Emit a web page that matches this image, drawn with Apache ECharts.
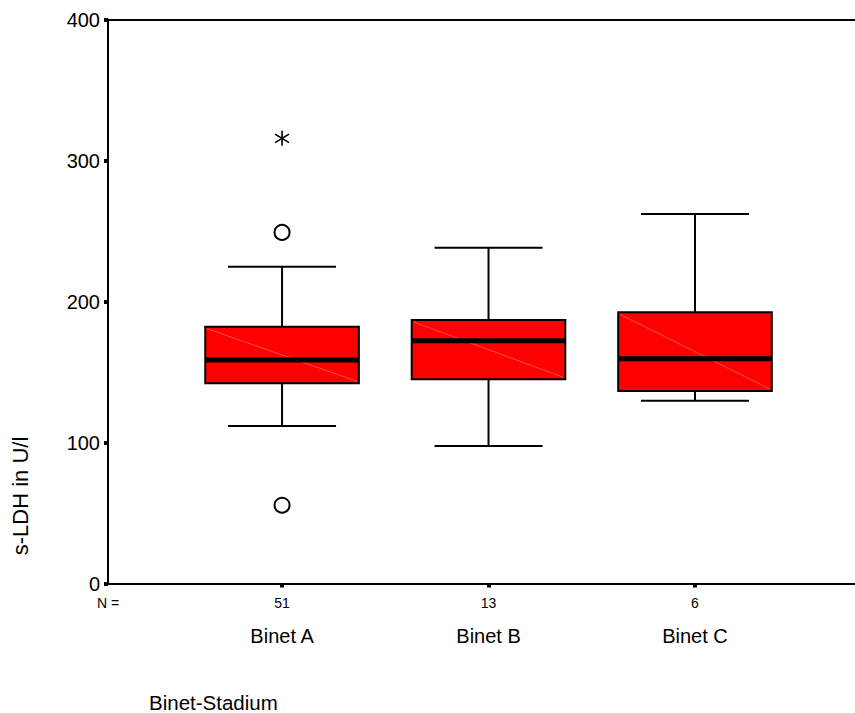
<!DOCTYPE html>
<html>
<head>
<meta charset="utf-8">
<script src="https://cdn.jsdelivr.net/npm/echarts@6/dist/echarts.min.js"></script>
<style>
  html, body { margin: 0; padding: 0; background: #fff; }
  #chart { width: 855px; height: 713px; }
</style>
</head>
<body>
<div id="chart"></div>
<script>
// s-LDH (U/l) by Binet stage — box-and-whisker summary
const categories = ['Binet A', 'Binet B', 'Binet C'];
const groupSizes = [51, 13, 6];
const whiskerLow = [111.7, 97.5, 129.6];
const quartile1 = [142.0, 144.8, 136.5];
const medians = [158.5, 172.2, 159.4];
const quartile3 = [182.1, 186.9, 192.3];
const whiskerHigh = [224.7, 238.2, 262.0];
// outliers (circles) and extremes (asterisks): [category index, value]
const outliers = [[0, 249.0], [0, 55.5]];
const extremes = [[0, 315.7]];
const yTicks = { min: 0, max: 400, step: 100 };

const FONT = '"Liberation Sans", Arial, sans-serif';
const X_MIN = 0.157;
const X_MAX = 3.775;
const catPositions = categories.map((c, i) => i + 1);

const boxData = categories.map((c, i) => [
  i + 1, whiskerLow[i], quartile1[i], medians[i], quartile3[i], whiskerHigh[i]
]);
const pointData = outliers.map(o => [o[0] + 1, o[1], 0])
  .concat(extremes.map(o => [o[0] + 1, o[1], 1]));

function renderBox(params, api) {
  const x = api.value(0);
  const lo = api.coord([x, api.value(1)]);
  const q1 = api.coord([x, api.value(2)]);
  const md = api.coord([x, api.value(3)]);
  const q3 = api.coord([x, api.value(4)]);
  const hi = api.coord([x, api.value(5)]);
  const unit = api.size([1, 0])[0];
  const bw = unit * 0.744;
  const cw = unit * 0.523;
  const cx = lo[0];
  const ln = { stroke: '#000', lineWidth: 2 };
  return {
    type: 'group',
    children: [
      { type: 'line', shape: { x1: cx, y1: hi[1], x2: cx, y2: q3[1] }, style: ln },
      { type: 'line', shape: { x1: cx, y1: q1[1], x2: cx, y2: lo[1] }, style: ln },
      { type: 'line', shape: { x1: cx - cw / 2, y1: hi[1], x2: cx + cw / 2, y2: hi[1] }, style: ln },
      { type: 'line', shape: { x1: cx - cw / 2, y1: lo[1], x2: cx + cw / 2, y2: lo[1] }, style: ln },
      { type: 'rect', shape: { x: cx - bw / 2, y: q3[1], width: bw, height: q1[1] - q3[1] },
        style: { fill: '#ff0000', stroke: '#000', lineWidth: 2 } },
      { type: 'line', shape: { x1: cx - bw / 2 + 2, y1: q3[1] + 2, x2: cx + bw / 2 - 2, y2: q1[1] - 2 },
        style: { stroke: 'rgba(255,150,150,0.75)', lineWidth: 0.7 } },
      { type: 'line', shape: { x1: cx - bw / 2, y1: md[1], x2: cx + bw / 2, y2: md[1] },
        style: { stroke: '#000', lineWidth: 5 } }
    ]
  };
}

function renderPoint(params, api) {
  const p = api.coord([api.value(0), api.value(1)]);
  const kind = api.value(2);
  if (kind === 0) {
    return { type: 'circle', shape: { cx: p[0], cy: p[1], r: 7.5 },
      style: { fill: '#fff', stroke: '#000', lineWidth: 2 } };
  }
  const s = { stroke: '#000', lineWidth: 1.6 };
  return {
    type: 'group',
    children: [
      { type: 'line', shape: { x1: p[0], y1: p[1] - 7.5, x2: p[0], y2: p[1] + 7.5 }, style: s },
      { type: 'line', shape: { x1: p[0] - 7, y1: p[1] - 4.2, x2: p[0] + 7, y2: p[1] + 4.2 }, style: s },
      { type: 'line', shape: { x1: p[0] - 7, y1: p[1] + 4.2, x2: p[0] + 7, y2: p[1] - 4.2 }, style: s }
    ]
  };
}

const chart = echarts.init(document.getElementById('chart'), null, { renderer: 'svg' });
chart.setOption({
  animation: false,
  backgroundColor: '#fff',
  textStyle: { fontFamily: FONT },
  title: {
    text: 'Binet-Stadium',
    left: 149,
    top: 692,
    padding: 0,
    textStyle: { fontFamily: FONT, fontSize: 20.5, fontWeight: 'normal', color: '#000' }
  },
  grid: { left: 108, right: 0, top: 19.5, bottom: 129.5, containLabel: false },
  xAxis: [
    {
      type: 'value', min: X_MIN, max: X_MAX, position: 'bottom',
      splitLine: { show: false },
      axisLine: { show: true, onZero: false, lineStyle: { color: '#000', width: 2 } },
      axisTick: { show: true, customValues: catPositions, length: 4, lineStyle: { color: '#000', width: 4 } },
      axisLabel: {
        customValues: [X_MIN].concat(catPositions),
        showMinLabel: true, showMaxLabel: true,
        margin: 12, fontSize: 14, color: '#000', fontFamily: FONT,
        formatter: v => Math.abs(v - X_MIN) < 1e-6 ? 'N =' : String(groupSizes[Math.round(v) - 1])
      }
    },
    {
      type: 'value', min: X_MIN, max: X_MAX, position: 'bottom',
      splitLine: { show: false },
      axisLine: { show: false },
      axisTick: { show: false },
      axisLabel: {
        customValues: catPositions,
        showMinLabel: true, showMaxLabel: true,
        margin: 42, fontSize: 20, color: '#000', fontFamily: FONT,
        formatter: v => categories[Math.round(v) - 1]
      }
    },
    {
      type: 'value', min: X_MIN, max: X_MAX, position: 'top',
      splitLine: { show: false },
      axisLine: { show: true, onZero: false, lineStyle: { color: '#000', width: 2 } },
      axisTick: { show: false },
      axisLabel: { show: false }
    }
  ],
  yAxis: {
    type: 'value', min: yTicks.min, max: yTicks.max, interval: yTicks.step,
    splitLine: { show: false },
    axisLine: { show: true, onZero: false, lineStyle: { color: '#000', width: 2 } },
    axisTick: { show: true, length: 4, lineStyle: { color: '#000', width: 4 } },
    axisLabel: { margin: 8, fontSize: 20, color: '#000', fontFamily: FONT }
  },
  graphic: [{
    type: 'text',
    x: 20, y: 496,
    rotation: Math.PI / 2,
    style: {
      text: 's-LDH in U/l',
      font: '22px ' + FONT,
      fill: '#000',
      textAlign: 'center',
      textVerticalAlign: 'middle'
    }
  }],
  series: [
    {
      type: 'custom', name: 's-LDH',
      xAxisIndex: 0, yAxisIndex: 0,
      renderItem: renderBox,
      encode: { x: 0, y: [1, 2, 3, 4, 5] },
      data: boxData,
      clip: false
    },
    {
      type: 'custom', name: 'Ausreißer',
      xAxisIndex: 0, yAxisIndex: 0,
      renderItem: renderPoint,
      encode: { x: 0, y: 1 },
      data: pointData,
      clip: false
    }
  ]
});
</script>
</body>
</html>
